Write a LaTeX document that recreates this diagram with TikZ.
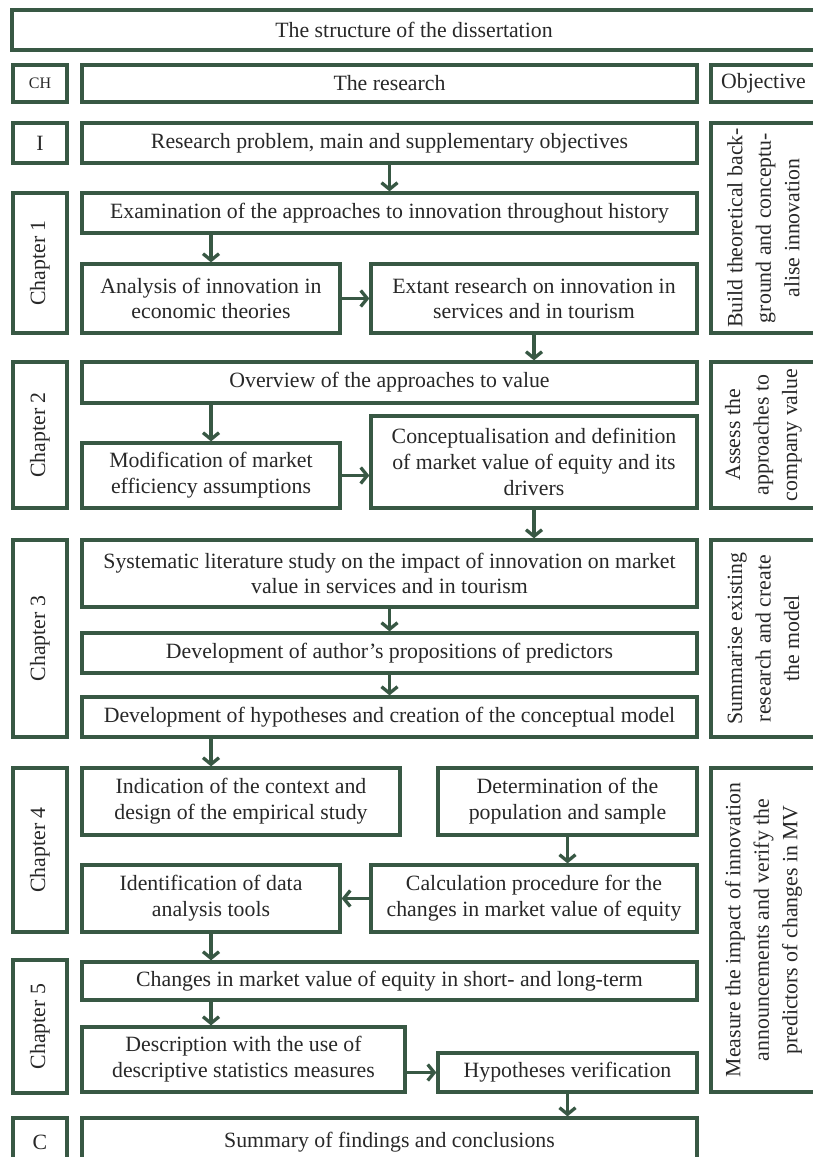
\documentclass[tikz,border=0pt]{standalone}
\usepackage{fontspec}
\setmainfont{Liberation Serif}
\usetikzlibrary{arrows.meta}
\definecolor{gr}{RGB}{56,88,68}
\definecolor{tx}{RGB}{40,40,40}
% box by corners: name, x1, y1, x2, y2, text
\newcommand{\bx}[6]{\node[box, minimum width={#4-#2}, minimum height={#5-#3}] (#1) at ({(#2+#4)/2},{(#3+#5)/2}) {#6};}
% vertical (rotated text) box by corners
\newcommand{\vbx}[7][box]{\node[#1, rotate=90, minimum width={#6-#4}, minimum height={#5-#3}] (#2) at ({(#3+#5)/2},{(#4+#6)/2}) {#7};}
\begin{document}
\begin{tikzpicture}[x=1pt,y=-1pt,
  box/.style={draw=gr, line width=3.3pt, fill=white, inner sep=0pt, align=center,
    font=\fontsize{21.8}{25.8}\selectfont, text=tx},
  obj/.style={box, font=\fontsize{21.8}{28.5}\selectfont},
  arr/.style={draw=gr, line width=3.3pt, -{Straight Barb[length=6.5pt,width=16pt]}}]
\useasboundingbox (0,0) rectangle (813,1157);
\fill[white] (0,0) rectangle (813,1157);
\clip (0,0) rectangle (813,1157);

% header
\bx{title}{12}{10}{816}{50}{The structure of the dissertation}
\bx{ch}{13}{65}{67}{102}{\fontsize{16}{18}\selectfont CH}
\bx{res}{82}{65}{697}{102}{The research}
\bx{objh}{711}{65}{816}{102}{Objective}

% I
\bx{ci}{13}{123}{67}{163}{I}
\bx{rp}{82}{123}{697}{163}{Research problem, main and supplementary objectives}

% Chapter 1
\vbx{c1}{13}{193}{67}{333}{Chapter 1}
\bx{exam}{82}{193}{697}{233}{Examination of the approaches to innovation throughout history}
\bx{anal}{82}{264}{340}{333}{Analysis of innovation in\\economic theories}
\bx{ext}{371}{264}{697}{333}{Extant research on innovation in\\services and in tourism}
\vbx[obj]{o1}{711}{123}{816}{333}{Build theoretical back-\\ground and conceptu-\\alise innovation}

% Chapter 2
\vbx{c2}{13}{362}{67}{508}{Chapter 2}
\bx{over}{82}{362}{697}{403}{Overview of the approaches to value}
\bx{modi}{82}{443}{340}{508}{Modification of market\\efficiency assumptions}
\bx{conc}{371}{416}{697}{508}{Conceptualisation and definition\\of market value of equity and its\\drivers}
\vbx[obj]{o2}{711}{362}{816}{508}{Assess the\\approaches to\\company value}

% Chapter 3
\vbx{c3}{13}{540}{67}{737}{Chapter 3}
\bx{syst}{82}{540}{697}{607}{Systematic literature study on the impact of innovation on market\\value in services and in tourism}
\bx{pred}{82}{633}{697}{673}{Development of author's propositions of predictors}
\bx{hypo}{82}{697}{697}{737}{Development of hypotheses and creation of the conceptual model}
\vbx[obj]{o3}{711}{540}{816}{737}{Summarise existing\\research and create\\the model}

% Chapter 4
\vbx{c4}{13}{768}{67}{932}{Chapter 4}
\bx{indi}{82}{768}{400}{835}{Indication of the context and\\design of the empirical study}
\bx{dete}{438}{768}{697}{835}{Determination of the\\population and sample}
\bx{iden}{82}{865}{340}{932}{Identification of data\\analysis tools}
\bx{calc}{371}{865}{697}{932}{Calculation procedure for the\\changes in market value of equity}

% Chapter 5
\vbx{c5}{13}{960}{67}{1093}{Chapter 5}
\bx{chan}{82}{962}{697}{1000}{Changes in market value of equity in short- and long-term}
\bx{desc}{82}{1027}{405}{1092}{Description with the use of\\descriptive statistics measures}
\bx{hver}{438}{1053}{697}{1092}{Hypotheses verification}
\vbx[obj]{o4}{711}{768}{816}{1092}{Measure the impact of innovation\\announcements and verify the\\predictors of changes in MV}

% C
\bx{cc}{13}{1118}{67}{1166}{C}
\bx{summ}{82}{1118}{697}{1166}{Summary of findings and conclusions}

% connectors
\draw[arr] (rp.south) -- (exam.north);
\draw[arr] (exam.south -| anal.north) -- (anal.north);
\draw[arr] (anal.east) -- (ext.west);
\draw[arr] (ext.south) -- (over.north -| ext.south);
\draw[arr] (over.south -| modi.north) -- (modi.north);
\draw[arr] (modi.east) -- (modi.east -| conc.west);
\draw[arr] (conc.south) -- (syst.north -| conc.south);
\draw[arr] (syst.south) -- (pred.north);
\draw[arr] (pred.south) -- (hypo.north);
\draw[arr] (hypo.south -| iden.north) -- (indi.north -| iden.north);
\draw[arr] (dete.south) -- (calc.north -| dete.south);
\draw[arr] (calc.west) -- (iden.east);
\draw[arr] (iden.south) -- (chan.north -| iden.south);
\draw[arr] (chan.south -| iden.south) -- (desc.north -| iden.south);
\draw[arr] (desc.east |- hver.west) -- (hver.west);
\draw[arr] (hver.south) -- (summ.north -| hver.south);
\end{tikzpicture}
\end{document}
